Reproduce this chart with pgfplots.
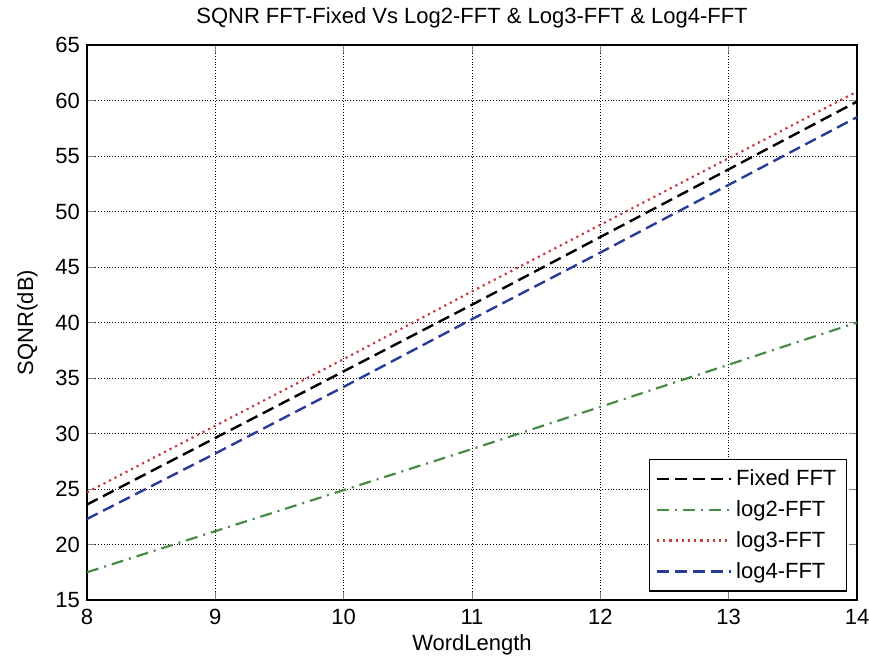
\documentclass[border=0pt]{standalone}
\usepackage{fontspec}
\setmainfont{Liberation Sans}
\usepackage{pgfplots}
\pgfplotsset{compat=1.18}
\usetikzlibrary{calc}
\definecolor{mgreen}{RGB}{70,140,70}
\definecolor{mblue}{RGB}{40,60,150}
\definecolor{mred}{RGB}{200,60,60}
\begin{document}
\begin{tikzpicture}
\begin{axis}[
  name=ax,
  scale only axis,
  width=385pt, height=277.5pt,
  xmin=8, xmax=14, ymin=15, ymax=65,
  xtick={8,9,...,14}, ytick={15,20,...,65},
  grid=major,
  grid style={black, densely dotted, line width=0.4pt},
  tick align=inside,
  tick pos=both,
  major tick length=4pt,
  axis line style={black, line width=0.6pt},
  /pgf/number format/assume math mode=true,
  tick label style={font=\fontsize{11}{13}\selectfont},
  xticklabel style={yshift=-1pt},
  label style={font=\fontsize{11}{13}\selectfont},
  title style={font=\fontsize{11}{13}\selectfont, yshift=-1pt},
  title={SQNR FFT-Fixed Vs Log2-FFT \& Log3-FFT \& Log4-FFT},
  xlabel={WordLength},
  ylabel={SQNR(dB)},
  xlabel style={yshift=2pt},
  ylabel style={yshift=2pt},
  legend style={font=\fontsize{11}{13}\selectfont, draw=black, line width=0.6pt, fill=white, inner sep=3pt, row sep=2pt, at={(0.987,0.015)}, anchor=south east},
  legend cell align=left,
  legend image code/.code={\draw[#1, line width=1.2pt] (0cm,0cm) -- (1.3cm,0cm);},
]
\addplot[black, line width=1.2pt, dash pattern=on 6pt off 3pt] coordinates {(8,23.6) (9,29.6) (10,35.6) (11,41.6) (12,47.7) (13,53.8) (14,59.9)};
\addlegendentry{Fixed FFT}
\addplot[mgreen, line width=1.1pt, dash pattern=on 6pt off 3pt on 1pt off 3pt] coordinates {(8,17.5) (9,21.2) (10,24.9) (11,28.6) (12,32.4) (13,36.2) (14,40.0)};
\addlegendentry{log2-FFT}
\addplot[mred, line width=1.1pt, dotted] coordinates {(8,24.7) (9,30.7) (10,36.7) (11,42.8) (12,48.8) (13,54.8) (14,60.8)};
\addlegendentry{log3-FFT}
\addplot[mblue, line width=1.2pt, dash pattern=on 6pt off 3pt] coordinates {(8,22.3) (9,28.2) (10,34.2) (11,40.3) (12,46.3) (13,52.4) (14,58.5)};
\addlegendentry{log4-FFT}
\end{axis}
\pgfresetboundingbox
\useasboundingbox ($(ax.south west)+(-43.5pt,-30.5pt)$) rectangle ($(ax.north east)+(6pt,22.5pt)$);
\end{tikzpicture}
\end{document}
